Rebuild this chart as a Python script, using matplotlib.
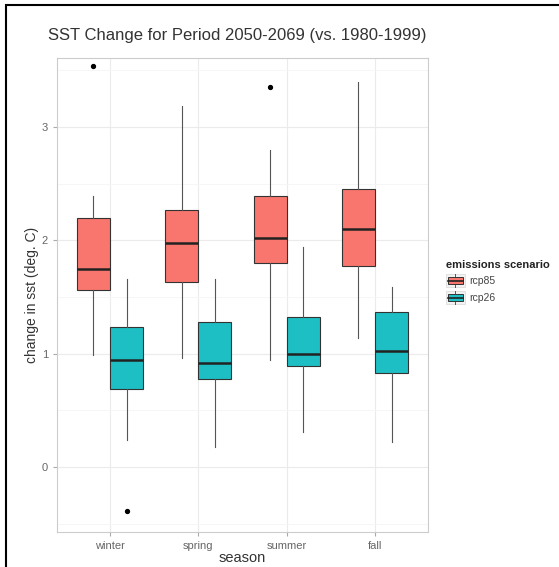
import matplotlib
matplotlib.use("Agg")
import matplotlib.pyplot as plt
from matplotlib.patches import Rectangle, Patch
from matplotlib.lines import Line2D
from matplotlib.legend_handler import HandlerBase

plt.rcParams['font.family'] = ['Liberation Sans', 'DejaVu Sans']

# valores (graus C)
seasons = ["winter", "spring", "summer", "fall"]
scenarios = ["rcp85", "rcp26"]
colors = ["#F8766D", "#1DBFC4"]

rcp85_whislo = [0.99, 0.96, 0.94, 1.14]
rcp85_q1 = [1.56, 1.63, 1.80, 1.77]
rcp85_med = [1.75, 1.98, 2.02, 2.10]
rcp85_q3 = [2.20, 2.27, 2.39, 2.45]
rcp85_whishi = [2.39, 3.19, 2.80, 3.40]
rcp85_fliers = [[3.54], [], [3.35], []]

rcp26_whislo = [0.24, 0.18, 0.31, 0.22]
rcp26_q1 = [0.69, 0.78, 0.89, 0.83]
rcp26_med = [0.94, 0.92, 1.00, 1.02]
rcp26_q3 = [1.24, 1.28, 1.32, 1.37]
rcp26_whishi = [1.66, 1.66, 1.94, 1.59]
rcp26_fliers = [[-0.39], [], [], []]

series = [
    (rcp85_whislo, rcp85_q1, rcp85_med, rcp85_q3, rcp85_whishi, rcp85_fliers),
    (rcp26_whislo, rcp26_q1, rcp26_med, rcp26_q3, rcp26_whishi, rcp26_fliers),
]

fig = plt.figure(figsize=(5.59, 5.67), dpi=100)
ax = fig.add_axes([0.102, 0.0617, 0.6637, 0.836])

offsets = [-0.1875, 0.1875]
for k, (lo, q1, med, q3, hi, fl) in enumerate(series):
    stats = []
    for i in range(len(seasons)):
        stats.append({"whislo": lo[i], "q1": q1[i], "med": med[i], "q3": q3[i],
                      "whishi": hi[i], "fliers": fl[i]})
    pos = [i + 1 + offsets[k] for i in range(len(seasons))]
    ax.bxp(stats, positions=pos, widths=0.375, patch_artist=True, showcaps=False,
           boxprops=dict(facecolor=colors[k], edgecolor="#333333", linewidth=0.8),
           whiskerprops=dict(color="#555555", linewidth=0.8),
           medianprops=dict(color="#222222", linewidth=1.8),
           flierprops=dict(marker="o", markerfacecolor="black", markeredgecolor="black",
                           markersize=2.8), zorder=3)

ax.set_xlim(0.4, 4.6)
ax.set_ylim(-0.574, 3.61)
ax.set_xticks(range(1, len(seasons) + 1))
ax.set_xticklabels(seasons)
ax.set_yticks([0, 1, 2, 3])
ax.set_yticks([-0.5, 0.5, 1.5, 2.5, 3.5], minor=True)
ax.grid(True, which="major", color="#EBEBEB", linewidth=0.8, zorder=0)
ax.grid(True, which="minor", axis="y", color="#F5F5F5", linewidth=0.6, zorder=0)
ax.set_axisbelow(True)
for s in ax.spines.values():
    s.set_color("#CCCCCC")
    s.set_linewidth(0.8)
ax.tick_params(which="major", length=3, color="#AAAAAA", labelcolor="#666666", labelsize=8)
ax.tick_params(which="minor", length=0)

ax.set_xlabel("season", fontsize=10.5, color="#333333", labelpad=0)
ax.set_ylabel("change in sst (deg. C)", fontsize=10, color="#333333", labelpad=2)
fig.text(0.086, 0.937, "SST Change for Period 2050-2069 (vs. 1980-1999)",
         fontsize=12, color="#333333", va="center", ha="left")


class BoxKey(HandlerBase):
    def create_artists(self, legend, orig_handle, xdescent, ydescent, width, height,
                       fontsize, trans):
        x0, y0 = -xdescent, -ydescent
        cx = x0 + width / 2
        bg = Rectangle((x0, y0), width, height, facecolor="#F2F2F2",
                       edgecolor="#DDDDDD", linewidth=0.6, transform=trans)
        wl = Line2D([cx, cx], [y0, y0 + height], color="#555555", linewidth=0.7, transform=trans)
        box = Rectangle((x0 + 0.08 * width, y0 + 0.22 * height), 0.84 * width, 0.56 * height,
                        facecolor=orig_handle.get_facecolor(), edgecolor="#333333",
                        linewidth=0.7, transform=trans)
        med = Line2D([x0 + 0.08 * width, x0 + 0.92 * width], [y0 + height / 2] * 2,
                     color="#222222", linewidth=1.2, transform=trans)
        return [bg, wl, box, med]


handles = [Patch(facecolor=c) for c in colors]
leg = fig.legend(handles, scenarios, title="emissions scenario", loc="center left",
                 bbox_to_anchor=(0.785, 0.502), frameon=False, fontsize=7.5,
                 title_fontsize=8, handler_map={Patch: BoxKey()},
                 handlelength=1.8, handleheight=1.6, handletextpad=0.4,
                 labelspacing=0.35, borderpad=0.2)
leg.get_title().set_fontweight("bold")
leg.get_title().set_color("#222222")
leg._legend_box.align = "left"
for t in leg.get_texts():
    t.set_color("#444444")

# moldura da imagem original
fig.add_artist(Rectangle((0.0107, -0.05), 1.1, 0.991 + 0.05, fill=False,
                         edgecolor="black", linewidth=1.5, transform=fig.transFigure))

fig.savefig("out.png", dpi=100)
